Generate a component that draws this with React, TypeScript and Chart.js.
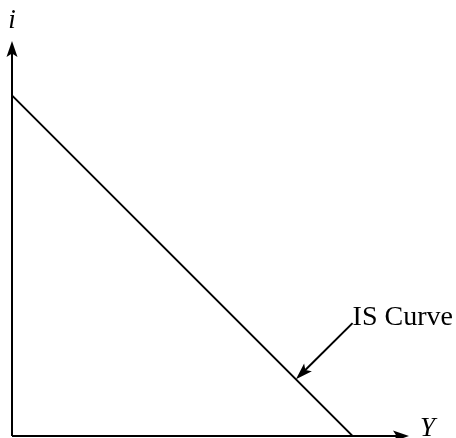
import React, { useEffect, useRef } from "react";
import { Chart, registerables } from "chart.js";

Chart.register(...registerables);

// IS curve: interest rate i vs output Y (arbitrary units 0..100)
const isCurveY: number[] = [0, 86];
const isCurveI: number[] = [86, 0];
const axisMax = 100;
const xAxisLabel = "Y";
const yAxisLabel = "i";
const curveLabel = "IS Curve";
// annotation arrow: from label point to a point on the curve
const annotFrom = { x: 86, y: 28.5 };
const annotTo = { x: 71.7, y: 14.3 };

function arrowHead(ctx: CanvasRenderingContext2D, x1: number, y1: number, x2: number, y2: number, len: number, width: number) {
  const ang = Math.atan2(y2 - y1, x2 - x1);
  const cos = Math.cos(ang), sin = Math.sin(ang);
  const bx = x2 - len * cos, by = y2 - len * sin;
  const nx = x2 - len * 0.78 * cos, ny = y2 - len * 0.78 * sin;
  const px = -sin * width / 2, py = cos * width / 2;
  ctx.beginPath();
  ctx.moveTo(x2, y2);
  ctx.lineTo(bx + px, by + py);
  ctx.lineTo(nx, ny);
  ctx.lineTo(bx - px, by - py);
  ctx.closePath();
  ctx.fill();
}

const axesPlugin = {
  id: "econAxes",
  afterDatasetsDraw(chart: any) {
    const { ctx, scales } = chart;
    const xs = scales.x, ys = scales.y;
    const x0 = xs.getPixelForValue(0), xMax = xs.getPixelForValue(axisMax);
    const y0 = ys.getPixelForValue(0), yMax = ys.getPixelForValue(axisMax);
    ctx.save();
    ctx.strokeStyle = "#000";
    ctx.fillStyle = "#000";
    ctx.lineWidth = 2;
    ctx.lineCap = "butt";
    // y axis
    ctx.beginPath();
    ctx.moveTo(x0, y0);
    ctx.lineTo(x0, yMax + 10);
    ctx.stroke();
    arrowHead(ctx, x0, y0, x0, yMax + 1, 16, 11);
    // x axis
    ctx.beginPath();
    ctx.moveTo(x0, y0);
    ctx.lineTo(xMax - 10, y0);
    ctx.stroke();
    arrowHead(ctx, x0, y0, xMax + 1, y0, 16, 11);
    // annotation arrow
    const ax1 = xs.getPixelForValue(annotFrom.x), ay1 = ys.getPixelForValue(annotFrom.y);
    const ax2 = xs.getPixelForValue(annotTo.x), ay2 = ys.getPixelForValue(annotTo.y);
    ctx.lineWidth = 2;
    ctx.beginPath();
    ctx.moveTo(ax1, ay1);
    const d = Math.hypot(ax2 - ax1, ay2 - ay1);
    ctx.lineTo(ax2 - (ax2 - ax1) / d * 10, ay2 - (ay2 - ay1) / d * 10);
    ctx.stroke();
    arrowHead(ctx, ax1, ay1, ax2, ay2, 17, 11);
    // labels
    ctx.font = "28px 'Liberation Serif'";
    ctx.textAlign = "left";
    ctx.textBaseline = "alphabetic";
    ctx.fillText(curveLabel, ax1 - 0, ay1 + 2);
    ctx.font = "italic 27px 'Liberation Serif'";
    ctx.textAlign = "center";
    ctx.fillText(yAxisLabel, x0, yMax - 12);
    ctx.textAlign = "left";
    ctx.fillText(xAxisLabel, xMax + 12, y0);
    ctx.restore();
  },
};

export default function App() {
  const ref = useRef<HTMLCanvasElement | null>(null);
  useEffect(() => {
    if (!ref.current) return;
    const chart = new Chart(ref.current, {
      type: "scatter",
      data: {
        datasets: [
          {
            label: curveLabel,
            data: isCurveY.map((y, k) => ({ x: y, y: isCurveI[k] })),
            showLine: true,
            borderColor: "#000",
            borderWidth: 1.8,
            pointRadius: 0,
            fill: false,
          },
        ],
      },
      options: {
        responsive: false,
        animation: false,
        layout: { padding: { left: 12, right: 48, top: 40, bottom: 2 } },
        plugins: { legend: { display: false }, tooltip: { enabled: false } },
        scales: {
          x: { type: "linear", min: 0, max: axisMax, display: false },
          y: { type: "linear", min: 0, max: axisMax, display: false },
        },
      },
      plugins: [axesPlugin],
    });
    return () => chart.destroy();
  }, []);
  return (
    <div style={{ position: "fixed", left: 0, top: 0, width: 456, height: 438, background: "#fff" }}>
      <canvas ref={ref} width={456} height={438} />
    </div>
  );
}
